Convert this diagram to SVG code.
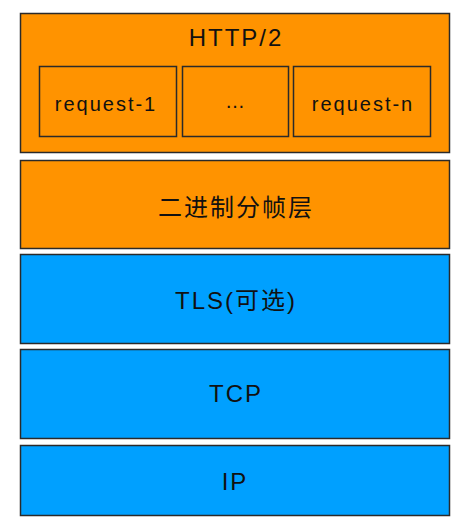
<svg xmlns="http://www.w3.org/2000/svg" width="468" height="529" viewBox="0 0 468 529">
<style>
.o{fill:#FF9300;stroke:#2a2a2a;stroke-width:1.5}
.b{fill:#00A0FF;stroke:#2a2a2a;stroke-width:1.5}
.i{fill:none;stroke:#2a2a2a;stroke-width:1.5}
text{font-family:"Liberation Sans","Noto Sans CJK SC",sans-serif;fill:#111;text-anchor:middle;dominant-baseline:central}
.l{font-size:24px;letter-spacing:2px}
.s{font-size:20px;letter-spacing:2px}
</style>
<rect width="468" height="529" fill="#fff"/>
<g id="http2">
<rect class="o" x="20.5" y="13.5" width="429" height="139"/>
<text class="l" x="236" y="37">HTTP/2</text>
</g>
<g id="request-1">
<rect class="i" x="39.5" y="66.5" width="137" height="70"/>
<text class="s" x="106" y="104">request-1</text>
</g>
<g id="request-mid">
<rect class="i" x="182.5" y="66.5" width="106" height="70"/>
<text class="s" x="236" y="101">…</text>
</g>
<g id="request-n">
<rect class="i" x="293.5" y="66.5" width="137" height="70"/>
<text class="s" x="363" y="104">request-n</text>
</g>
<g id="framing">
<rect class="o" x="20.5" y="160.5" width="429" height="88"/>
<text class="l" x="236" y="207">二进制分帧层</text>
</g>
<g id="tls">
<rect class="b" x="20.5" y="254.5" width="429" height="89"/>
<text class="l" x="236" y="300">TLS(可选)</text>
</g>
<g id="tcp">
<rect class="b" x="20.5" y="349.5" width="429" height="89"/>
<text class="l" x="236" y="393">TCP</text>
</g>
<g id="ip">
<rect class="b" x="20.5" y="445.5" width="429" height="70"/>
<text class="l" x="235" y="481">IP</text>
</g>
<g id="connectors"/>
</svg>
